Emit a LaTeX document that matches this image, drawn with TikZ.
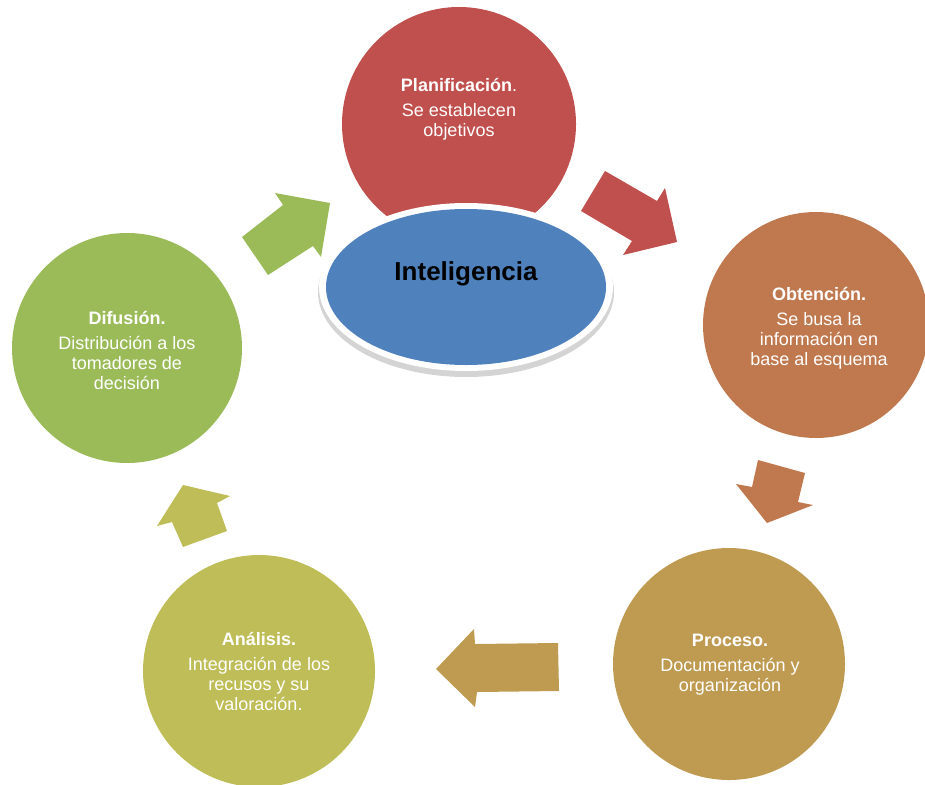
\documentclass[tikz,border=0pt]{standalone}
\usepackage{fontspec}
\setmainfont{Liberation Sans}
\usetikzlibrary{shapes.geometric}

\definecolor{planred}{RGB}{192,80,77}
\definecolor{obtorange}{RGB}{192,121,79}
\definecolor{procgold}{RGB}{191,155,82}
\definecolor{analolive}{RGB}{190,189,87}
\definecolor{difgreen}{RGB}{155,187,89}
\definecolor{intelblue}{RGB}{79,129,189}

\tikzset{
  stage/.style={circle, inner sep=0pt, draw=none, minimum size=232pt},
  stagetext/.style={text=white, align=center, inner sep=0pt, font=\fontsize{18}{20}\selectfont},
}

\begin{document}
\begin{tikzpicture}[x=1pt,y=1pt,yscale=-1,xscale=1]
\useasboundingbox (0,0) rectangle (925,784);

%Shape: Circle
\node (plan) [stage, fill=planred, minimum size=234pt] at (459,124) {};
%Shape: Circle
\node (obt) [stage, fill=obtorange, minimum size=226pt] at (816,325) {};
%Shape: Circle
\node (proc) [stage, fill=procgold] at (729,664) {};
%Shape: Circle
\node (anal) [stage, fill=analolive] at (259,671) {};
%Shape: Circle
\node (dif) [stage, fill=difgreen, minimum size=230pt] at (127,348) {};

%Shape: Right Arrow
\fill [planred] (605,171) -- (657,201) -- (665,188) -- (677,242) -- (623,255) -- (632,241) -- (581,211) -- cycle ;
%Shape: Right Arrow
\fill [obtorange] (758,460) -- (805,473) -- (798,502) -- (813,505) -- (767,523) -- (736,484) -- (752,487) -- cycle ;
%Shape: Right Arrow
\fill [procgold] (558,643) -- (559,691) -- (477,692) -- (475,707) -- (436,669) -- (474,629) -- (475,644) -- cycle ;
%Shape: Right Arrow
\fill [analolive] (183,485) -- (230,496) -- (217,503) -- (227,531) -- (183,547) -- (172,522) -- (157,526) -- cycle ;
%Shape: Right Arrow
\fill [difgreen] (242,237) -- (268,275) -- (313,246) -- (321,257) -- (330,203) -- (275,193) -- (283,205) -- cycle ;

%Shape: Ellipse
\node (intel-shadow) [ellipse, fill=black!17, inner sep=0pt, minimum width=296pt, minimum height=170pt] at (466,292) {};
\node (intel-ring) [ellipse, fill=white, inner sep=0pt, minimum width=294pt, minimum height=168pt] at (466,287) {};
\node (intel) [ellipse, fill=intelblue, inner sep=0pt, minimum width=280pt, minimum height=156pt] at (466,287) {};

% Text Node
\node (intel-txt) [inner sep=0pt, font=\fontsize{26}{30}\selectfont\bfseries] at (466,274) {Inteligencia};
% Text Node
\node (plan-txt) [stagetext] at (459,109) {\textbf{Planificación}.\\[5pt]Se establecen\\objetivos};
% Text Node
\node (obt-txt) [stagetext] at (819,328) {\textbf{Obtención.}\\[5pt]Se busa la\\información en\\base al esquema};
% Text Node
\node (proc-txt) [stagetext] at (730,665) {\textbf{Proceso.}\\[5pt]Documentación y\\organización};
% Text Node
\node (anal-txt) [stagetext] at (259,671) {\textbf{Análisis.}\\[5pt]Integración de los\\recusos y su\\valoración.};
% Text Node
\node (dif-txt) [stagetext] at (127,350) {\textbf{Difusión.}\\[5pt]Distribución a los\\tomadores de\\decisión};

\end{tikzpicture}
\end{document}
